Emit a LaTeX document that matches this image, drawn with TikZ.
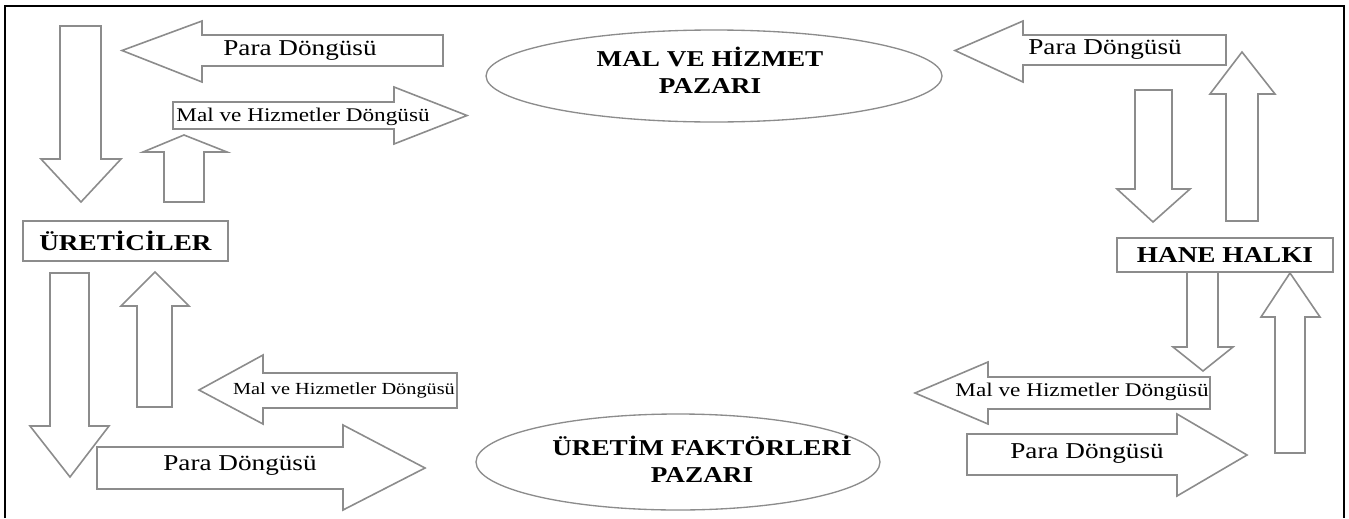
\documentclass[tikz,border=0pt]{standalone}
\usepackage{fontspec}
\setmainfont{Liberation Serif}
\definecolor{arrowgray}{RGB}{140,140,140}
\begin{document}
\begin{tikzpicture}[x=0.75pt,y=-0.75pt,
  blockarrow/.style={draw=arrowgray,line width=1.2pt,line join=miter,fill=white},
  boxshape/.style={draw=arrowgray,line width=1.2pt},
  marketshape/.style={draw=arrowgray,line width=1pt},
  frameline/.style={draw=black,line width=1.6pt},
  paralabel/.style={inner sep=0pt,font=\fontsize{17}{20}\selectfont},
  mallabel/.style={inner sep=0pt,font=\fontsize{14.5}{17}\selectfont},
  mallabelsmall/.style={inner sep=0pt,font=\fontsize{12.7}{15}\selectfont},
  boldlabel/.style={inner sep=0pt,font=\fontsize{17}{20.25}\selectfont\bfseries,align=center}]
\useasboundingbox (0,0) rectangle (1349,518);
% frame
\draw[frameline] (5,518) -- (5,6) -- (1344,6) -- (1344,518);

% ---------- top left ----------
\draw[blockarrow] (60,26) -- (101,26) -- (101,159) -- (121,159) -- (81,202) -- (41,159) -- (60,159) -- cycle;
\draw[blockarrow] (443,35) -- (202,35) -- (202,21) -- (122,50.5) -- (202,82) -- (202,66) -- (443,66) -- cycle;
\node[paralabel] (tlpara) at (300,51) {\scalebox{1.2}[1]{Para Döngüsü}};
\draw[blockarrow] (173,102) -- (394,102) -- (394,87) -- (467,115.5) -- (394,144) -- (394,129) -- (173,129) -- cycle;
\node[mallabel] (tlmal) at (303,117) {\scalebox{1.2}[1]{Mal ve Hizmetler Döngüsü}};
\draw[blockarrow] (164,202) -- (164,152) -- (143,152) -- (184,135) -- (227,152) -- (204,152) -- (204,202) -- cycle;

% producers
\draw[boxshape] (23,221) rectangle (228,261);
\node[boldlabel] (uretici) at (125.5,241) {\scalebox{1.2}[1]{ÜRETİCİLER}};

% goods market
\draw[marketshape] (714,76) ellipse [x radius=228, y radius=46];
\node[boldlabel] (malpazar) at (710,70) {\scalebox{1.2}[1]{MAL VE HİZMET}\\\scalebox{1.2}[1]{PAZARI}};

% ---------- top right ----------
\draw[blockarrow] (1226,35) -- (1023,35) -- (1023,21) -- (955,50.5) -- (1023,82) -- (1023,65) -- (1226,65) -- cycle;
\node[paralabel] (trpara) at (1105,50) {\scalebox{1.2}[1]{Para Döngüsü}};
\draw[blockarrow] (1135,90) -- (1172,90) -- (1172,189) -- (1190,189) -- (1153,222) -- (1117,189) -- (1135,189) -- cycle;
\draw[blockarrow] (1226,221) -- (1226,94) -- (1210,94) -- (1242,52) -- (1275,94) -- (1258,94) -- (1258,221) -- cycle;

% households
\draw[boxshape] (1117,238) rectangle (1333,272);
\node[boldlabel] (hane) at (1225,255.5) {\scalebox{1.2}[1]{HANE HALKI}};

% ---------- bottom left ----------
\draw[blockarrow] (50,273) -- (89,273) -- (89,426) -- (109,426) -- (70,477) -- (30,426) -- (50,426) -- cycle;
\draw[blockarrow] (137,407) -- (137,306) -- (121,306) -- (155,272) -- (189,306) -- (172,306) -- (172,407) -- cycle;
\draw[blockarrow] (457,373) -- (263,373) -- (263,355) -- (199,390) -- (263,424) -- (263,408) -- (457,408) -- cycle;
\node[mallabelsmall] (blmal) at (344,390) {\scalebox{1.2}[1]{Mal ve Hizmetler Döngüsü}};
\draw[blockarrow] (97,447) -- (343,447) -- (343,425) -- (425,468) -- (343,510) -- (343,489) -- (97,489) -- cycle;
\node[paralabel] (blpara) at (240,466) {\scalebox{1.2}[1]{Para Döngüsü}};

% factor market
\draw[marketshape] (678,462) ellipse [x radius=202, y radius=48];
\node[boldlabel] (faktorpazar) at (702,459) {\scalebox{1.2}[1]{ÜRETİM FAKTÖRLERİ}\\\scalebox{1.2}[1]{PAZARI}};

% ---------- bottom right ----------
\draw[blockarrow] (1187,272) -- (1218,272) -- (1218,347) -- (1233,347) -- (1203,371) -- (1173,347) -- (1187,347) -- cycle;
\draw[blockarrow] (1275,453) -- (1275,317) -- (1261,317) -- (1290,273) -- (1320,317) -- (1305,317) -- (1305,453) -- cycle;
\draw[blockarrow] (1210,377) -- (988,377) -- (988,362) -- (915,393) -- (988,424) -- (988,409) -- (1210,409) -- cycle;
\node[mallabel] (brmal) at (1082,392) {\scalebox{1.2}[1]{Mal ve Hizmetler Döngüsü}};
\draw[blockarrow] (967,434) -- (1177,434) -- (1177,414) -- (1247,455) -- (1177,496) -- (1177,475) -- (967,475) -- cycle;
\node[paralabel] (brpara) at (1087,454) {\scalebox{1.2}[1]{Para Döngüsü}};
\end{tikzpicture}
\end{document}
